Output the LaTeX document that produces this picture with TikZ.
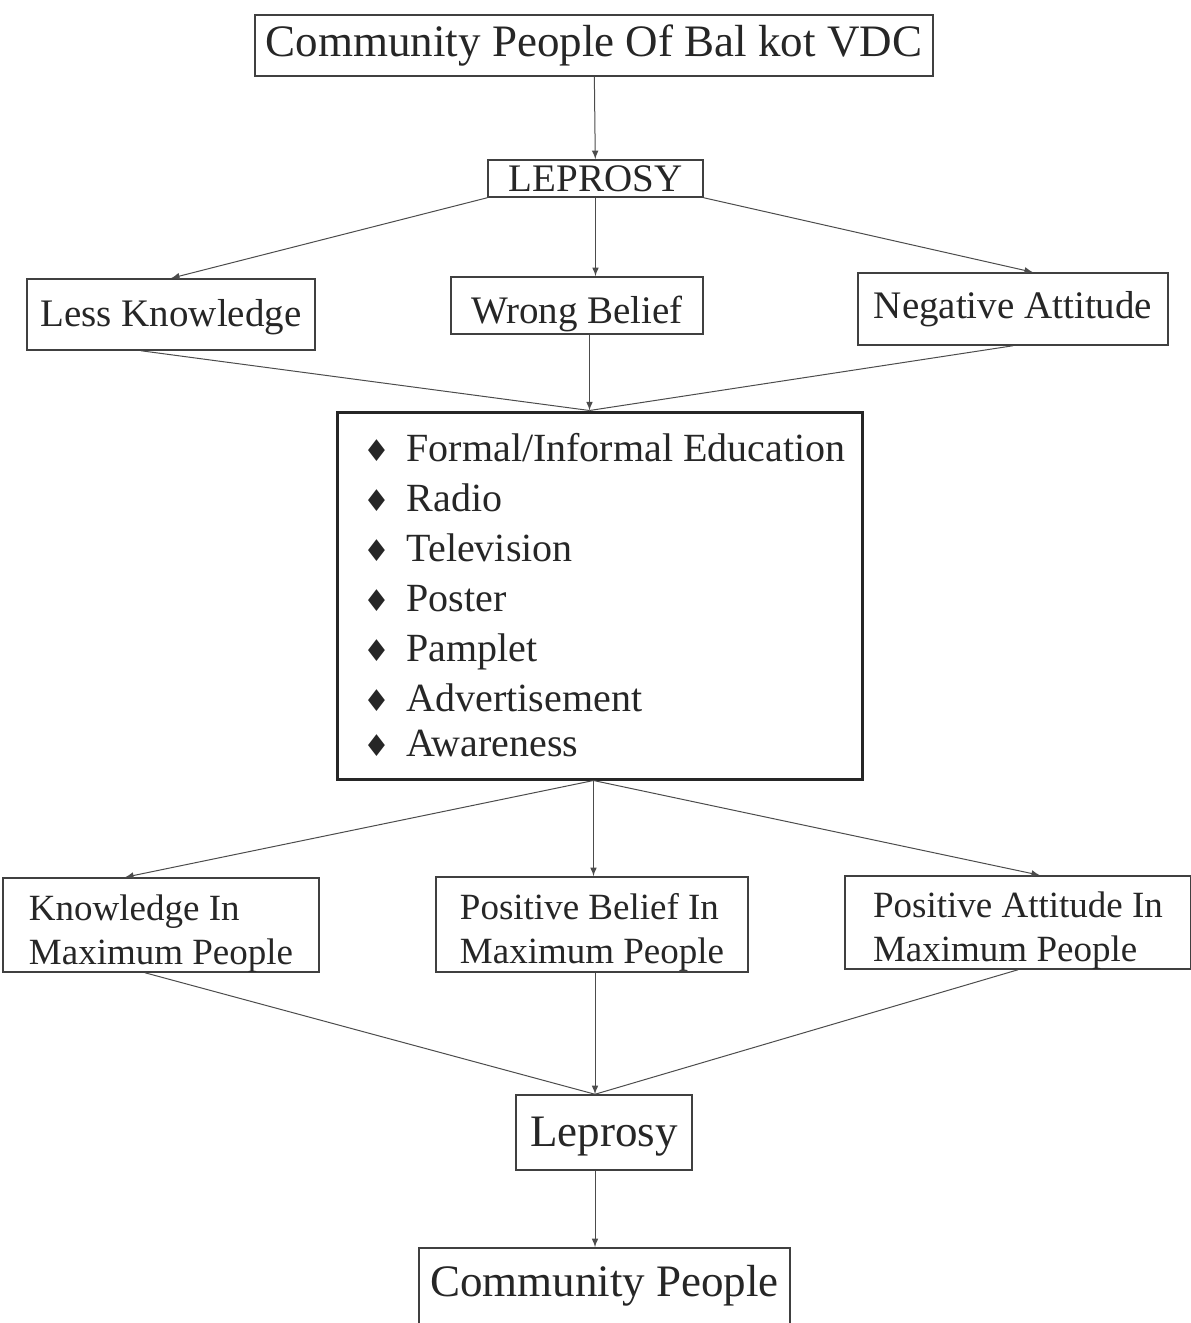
\documentclass[tikz,border=0pt]{standalone}
\usepackage{fontspec}
\setmainfont{Liberation Serif}
\newfontfamily\symfont{DejaVu Sans}
\usetikzlibrary{positioning}
\usetikzlibrary{calc}
\tikzstyle{block} = [draw=black!75, rectangle, line width=0.75pt, inner sep=2pt, text=black!85]
\tikzstyle{bigblock} = [draw=black!85, rectangle, line width=1.5pt, inner sep=0pt, text=black!85]
\tikzstyle{coord} = [coordinate]
\tikzstyle{line} = [draw=black!70, line width=0.5pt]
\tikzstyle{bigtext} = [font=\fontsize{22.5}{27}\selectfont]
\tikzstyle{midtext} = [font=\fontsize{19.5}{24}\selectfont]
\tikzstyle{smalltext} = [font=\fontsize{18.5}{22}\selectfont, align=left, text height=39pt, text depth=0pt]
\newcommand{\dia}{{\symfont\fontsize{15}{15}\selectfont ♦}}
\newcommand{\itm}[1]{\hspace*{5pt}\makebox[21.5pt][l]{\dia}#1}

\begin{document}
\begin{tikzpicture}[x=0.5pt,y=-0.5pt,>=latex]
    \useasboundingbox (0,0) rectangle (1190,1323);
    % upper part
    \node [block, bigtext, minimum width=339pt, minimum height=30.5pt] (top) at (594,45.5) {Community People Of Bal kot VDC};
    \node [block, midtext, minimum width=107.5pt, minimum height=18.5pt] (lep) at (595.5,178.5) {LEPROSY};
    \node [block, midtext, minimum width=144pt, minimum height=35.5pt, text height=16pt, text depth=4.5pt] (lk) at (171,314.5) {Less Knowledge};
    \node [block, midtext, minimum width=126pt, minimum height=28.5pt, inner ysep=0pt, text height=22pt, text depth=4.5pt] (wb) at (577,305.5) {Wrong Belief};
    \node [block, midtext, minimum width=155pt, minimum height=36pt] (na) at (1013,309) {Negative Attitude};
    \node [bigblock, font=\fontsize{20}{25}\selectfont, align=left, minimum width=262.5pt, minimum height=183.5pt] (edu) at (599.5,595.5)
        {\itm{Formal/Informal Education}\\
         \itm{Radio}\\
         \itm{Television}\\
         \itm{Poster}\\
         \itm{Pamplet}\\
         \itm{Advertisement}\\[-2.5pt]
         \itm{Awareness}};
    % lower part
    \node [block, smalltext, minimum width=158pt, minimum height=47pt] (kmp) at (161,925) {Knowledge In\\Maximum People};
    \node [block, smalltext, minimum width=156pt, minimum height=47.5pt] (pbm) at (592,924.5) {Positive Belief In\\Maximum People};
    \node [block, smalltext, minimum width=173pt, minimum height=46.5pt] (pam) at (1018,922.5) {Positive Attitude In\\Maximum People};
    \node [block, bigtext, minimum width=88pt, minimum height=37.5pt, text height=18pt, text depth=4pt] (lep2) at (604,1132.5) {Leprosy};
    \node [block, bigtext, minimum width=185.5pt, minimum height=38pt] (cp) at (604.5,1286) {Community People};

    \coordinate (m1) at ([xshift=-5pt]edu.north);
    \coordinate (m2) at ([xshift=-3pt]edu.south);
    \coordinate (m3) at ([xshift=-4.5pt]lep2.north);

    \draw [line,->] (top) -- (lep);
    \draw [line,->] (lep.south west) -- (lk.north);
    \draw [line,->] (lep.south) -- (lep.south |- wb.north);
    \draw [line,->] (lep.south east) -- ([xshift=10pt]na.north);

    \draw [line] ([xshift=-15pt]lk.south) -- (m1);
    \draw [line,->] (m1 |- wb.south) -- (m1);
    \draw [line] (na.south) -- (m1);

    \draw [line,->] (m2) -- ([xshift=-18pt]kmp.north);
    \draw [line,->] (m2) -- (m2 |- pbm.north);
    \draw [line,->] (m2) -- ([xshift=11pt]pam.north);

    \draw [line] ([xshift=-8pt]kmp.south) -- (m3);
    \draw [line,->] (m3 |- pbm.south) -- (m3);
    \draw [line] (pam.south) -- (m3);

    \draw [line,->] (m3 |- lep2.south) -- (m3 |- cp.north);
\end{tikzpicture}
\end{document}
